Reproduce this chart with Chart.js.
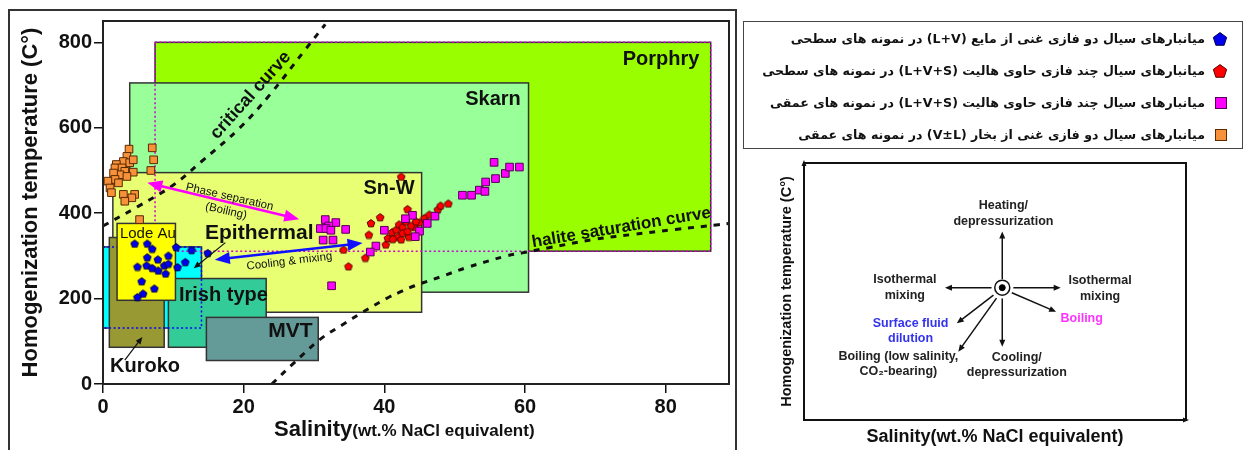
<!DOCTYPE html>
<html>
<head>
<meta charset="utf-8">
<script src="https://cdn.jsdelivr.net/npm/chart.js@4.4.0/dist/chart.umd.min.js"></script>
<style>
  body { margin: 0; width: 1249px; height: 450px; overflow: hidden; background: #fff; position: relative;
         font-family: "Liberation Sans", Arial, sans-serif; }
  #main { position: absolute; left: 0; top: 0; }
  #scheme { position: absolute; left: 760px; top: 154px; }
  #frame { position: absolute; left: 8px; top: 9px; width: 729px; height: 460px; border: 2px solid #333;
           box-sizing: border-box; pointer-events: none; }
  #xtitle { position: absolute; left: 274px; top: 418px; line-height: 22px; font-weight: bold; color: #111; white-space: nowrap; }
  #xtitle .big { font-size: 22px; }
  #xtitle .small { font-size: 17px; }
  #legend { position: absolute; left: 743px; top: 21px; width: 500px; height: 128px; border: 1.5px solid #444;
            box-sizing: border-box; }
  #legend .row { position: absolute; right: 37px; height: 18px; line-height: 18px; direction: rtl;
                 font-family: "DejaVu Sans", sans-serif; font-weight: bold; font-size: 12.6px; color: #111; white-space: nowrap; }
  #legend img { position: absolute; right: 14px; }
</style>
</head>
<body>
<canvas id="main" width="1249" height="450"></canvas>
<div id="frame"></div>
<div id="xtitle"><span class="big">Salinity</span><span class="small">(wt.% NaCl equivalent)</span></div>
<div id="legend"></div>
<canvas id="scheme" width="440" height="296"></canvas>

<script>
// axis ticks
const xTicks = [0, 20, 40, 60, 80];
const yTicks = [0, 200, 400, 600, 800];

// deposit type fields (wt.% NaCl range, Th range), in drawing order
const zoneNames = ['Porphry', 'Skarn', 'Sn-W', 'Epithermal', 'Kuroko', 'Irish type', 'MVT', 'Lode Au'];
const zoneSalinity = [[7.4, 86.4], [3.8, 60.5], [1.4, 45.3], [0, 14], [0.9, 8.7], [9.3, 23.2], [14.7, 30.6], [2, 10.3]];
const zoneTemp = [[311, 800], [215, 705], [168, 495], [131, 321], [86, 343], [86, 247], [55, 156], [196, 376]];

// reference curves
const criticalSalinity = [0, 5, 10, 14, 19.4, 23.7, 28.9, 31.6];
const criticalTemp = [370, 416, 466, 521, 599, 677, 786, 842];
const haliteSalinity = [24, 27, 30.9, 34, 36.9, 40.5, 42.6, 44.3, 48, 51.6, 57.4, 59.6, 63.4, 70, 75.2, 81.4, 87.5, 89];
const haliteTemp = [0, 47, 105, 138, 168, 202, 218, 230, 251, 272, 300, 307, 319, 339, 350, 362, 373, 376];

// fluid inclusions
const lvSurfSal = [4.5, 6.3, 7.0, 10.4, 12.6, 14.9, 6.3, 7.8, 9.3, 4.9, 6.2, 7.0, 7.85, 8.7, 9.3, 8.9, 10.6, 11.7, 5.5, 7.3, 5.7, 4.9];
const lvSurfTh = [329, 329, 317, 321, 314, 307, 297, 292, 301, 275, 278, 272, 266, 278, 282, 259, 274, 286, 241, 224, 212, 204];

const lvsSurfSal = [42.4, 43.3, 39.4, 38.1, 37.8, 34.2, 34.9, 37.3, 40.2, 40.5, 41.1, 41.7, 42.1, 42.6, 43.1, 41.9, 42.4, 43.5, 44.3, 45.0, 45.7, 46.4, 47.6, 48.0, 49.1, 43.8, 41.2, 42.6, 43.3, 44.5];
const lvsSurfTh = [486, 410, 391, 377, 350, 315, 276, 296, 327, 342, 356, 362, 374, 368, 381, 345, 339, 345, 368, 379, 389, 397, 409, 418, 423, 371, 340, 354, 358, 381];

const lvsDeepSal = [31.6, 33.1, 32.1, 30.9, 31.7, 32.4, 34.5, 31.3, 32.7, 44.0, 43.0, 40.0, 45.0, 44.4, 38.8, 38.0, 46.1, 47.2, 51.1, 52.4, 53.5, 54.3, 54.4, 55.8, 57.2, 57.8, 59.2, 55.6, 32.5];
const lvsDeepTh = [385, 378, 370, 364, 364, 360, 362, 337, 337, 395, 387, 360, 358, 345, 323, 309, 376, 393, 442, 442, 454, 451, 473, 481, 493, 508, 508, 519, 230];

const vlDeepSal = [7.0, 7.2, 6.8, 3.7, 3.4, 2.9, 3.8, 4.3, 1.9, 1.7, 2.7, 3.1, 2.4, 1.5, 4.3, 3.4, 1.7, 0.7, 2.2, 1.0, 1.2, 2.9, 4.5, 4.1, 3.1, 5.2];
const vlDeepTh = [553, 525, 500, 550, 533, 521, 518, 525, 514, 506, 506, 498, 490, 494, 496, 486, 479, 475, 471, 459, 448, 444, 444, 436, 428, 385];

const legendLabels = [
  'میانبارهای سیال دو فازی غنی از مایع (L+V) در نمونه های سطحی',
  'میانبارهای سیال چند فازی حاوی هالیت (L+V+S) در نمونه های سطحی',
  'میانبارهای سیال چند فازی حاوی هالیت (L+V+S) در نمونه های عمقی',
  'میانبارهای سیال دو فازی غنی از بخار (V±L) در نمونه های عمقی'
];

// styles
const zoneFill = ['#99ff00', '#99ff99', '#e8ff74', '#00ffff', '#999933', '#33cc99', '#649a98', '#ffff00'];
const zoneDotted = { 'Porphry': '#cc00cc', 'Epithermal': '#0000ff' };

const toPts = (xs, ys) => xs.map((v, i) => ({ x: v, y: ys[i] }));

function pentagon(size, fill, stroke) {
  const c = document.createElement('canvas');
  c.width = c.height = size;
  const g = c.getContext('2d');
  const r = size / 2 - 1;
  g.beginPath();
  for (let i = 0; i < 5; i++) {
    const a = -Math.PI / 2 + i * 2 * Math.PI / 5;
    const px = size / 2 + r * Math.cos(a), py = size / 2 + 0.6 + r * Math.sin(a);
    i ? g.lineTo(px, py) : g.moveTo(px, py);
  }
  g.closePath();
  g.fillStyle = fill; g.fill();
  g.lineWidth = 1; g.strokeStyle = stroke; g.stroke();
  return c;
}
function square(size, fill, stroke) {
  const c = document.createElement('canvas');
  c.width = c.height = size;
  const g = c.getContext('2d');
  g.fillStyle = fill; g.fillRect(1, 1, size - 2, size - 2);
  g.lineWidth = 1; g.strokeStyle = stroke; g.strokeRect(1.5, 1.5, size - 3, size - 3);
  return c;
}

function drawArrow(ctx, x0, y0, x1, y1, color, lw, hl, hw, both) {
  const a = Math.atan2(y1 - y0, x1 - x0), c = Math.cos(a), s = Math.sin(a);
  ctx.strokeStyle = color; ctx.fillStyle = color; ctx.lineWidth = lw;
  ctx.beginPath();
  ctx.moveTo(both ? x0 + c * hl * 0.7 : x0, both ? y0 + s * hl * 0.7 : y0);
  ctx.lineTo(x1 - c * hl * 0.7, y1 - s * hl * 0.7);
  ctx.stroke();
  const head = (x, y, cc, ss) => {
    ctx.beginPath();
    ctx.moveTo(x, y);
    ctx.lineTo(x - hl * cc + hw / 2 * ss, y - hl * ss - hw / 2 * cc);
    ctx.lineTo(x - hl * cc - hw / 2 * ss, y - hl * ss + hw / 2 * cc);
    ctx.closePath(); ctx.fill();
  };
  head(x1, y1, c, s);
  if (both) head(x0, y0, -c, -s);
}

function drawText(ctx, text, x, y, font, color, align, rot) {
  ctx.save();
  ctx.translate(x, y);
  if (rot) ctx.rotate(rot * Math.PI / 180);
  ctx.font = font; ctx.fillStyle = color;
  ctx.textAlign = align || 'center'; ctx.textBaseline = 'middle';
  ctx.fillText(text, 0, 0);
  ctx.restore();
}

// annotations of the main diagram (data units)
const mainArrows = [
  { from: [6.3, 471], to: [27.9, 386], color: '#ff00ff', both: true, lw: 2.5, hl: 15, hw: 12 },
  { from: [15.9, 291], to: [36.9, 330], color: '#1010ff', both: true, lw: 2.5, hl: 15, hw: 12 },
  { from: [17.4, 331], to: [12.9, 271], color: '#111', both: false, lw: 1.2, hl: 7, hw: 6 },
  { from: [3.1, 56], to: [5.6, 110], color: '#111', both: false, lw: 1.2, hl: 7, hw: 6 }
];
const mainLabels = [
  { text: 'Porphry', x: 84.8, y: 759, font: 'bold 20px "Liberation Sans"', align: 'right' },
  { text: 'Skarn', x: 59.4, y: 667, font: 'bold 20px "Liberation Sans"', align: 'right' },
  { text: 'Sn-W', x: 44.3, y: 457, font: 'bold 20px "Liberation Sans"', align: 'right' },
  { text: 'Lode Au', x: 2.4, y: 351, font: '15px "Liberation Sans"', align: 'left' },
  { text: 'Epithermal', x: 14.5, y: 353, font: 'bold 21px "Liberation Sans"', align: 'left' },
  { text: 'Irish type', x: 10.8, y: 208, font: 'bold 20px "Liberation Sans"', align: 'left' },
  { text: 'MVT', x: 23.5, y: 124, font: 'bold 21px "Liberation Sans"', align: 'left' },
  { text: 'Kuroko', x: 1.0, y: 42, font: 'bold 20px "Liberation Sans"', align: 'left' },
  { text: 'critical curve', x: 21.0, y: 676, font: 'bold 18px "Liberation Sans"', rot: -48 },
  { text: 'halite saturation curve', x: 73.7, y: 366, font: 'bold 17px "Liberation Sans"', rot: -9.5 },
  { text: 'Phase separation', x: 18.0, y: 438, font: '11.5px "Liberation Sans"', rot: 13 },
  { text: '(Boiling)', x: 17.5, y: 405, font: '11.5px "Liberation Sans"', rot: 13 },
  { text: 'Cooling & mixing', x: 26.5, y: 287, font: '11.5px "Liberation Sans"', rot: -7 }
];

const zonePlugin = {
  id: 'zones',
  beforeDatasetsDraw(chart) {
    const { ctx, chartArea: a, scales: { x, y } } = chart;
    ctx.save();
    ctx.beginPath(); ctx.rect(a.left, a.top, a.right - a.left, a.bottom - a.top); ctx.clip();
    const rectOf = i => {
      const l = x.getPixelForValue(zoneSalinity[i][0]), r = x.getPixelForValue(zoneSalinity[i][1]);
      const t = y.getPixelForValue(zoneTemp[i][1]), b = y.getPixelForValue(zoneTemp[i][0]);
      return [l, t, r - l, b - t];
    };
    const solid = i => {
      const rc = rectOf(i);
      ctx.fillStyle = zoneFill[i]; ctx.fillRect(...rc);
      ctx.setLineDash([]); ctx.lineWidth = 1.5; ctx.strokeStyle = '#333'; ctx.strokeRect(...rc);
    };
    const last = zoneNames.indexOf('Lode Au');
    zoneNames.forEach((n, i) => { if (i !== last) solid(i); });
    zoneNames.forEach((n, i) => {
      if (!zoneDotted[n]) return;
      ctx.setLineDash([2, 2.5]); ctx.lineWidth = 1.5; ctx.strokeStyle = zoneDotted[n];
      ctx.strokeRect(...rectOf(i));
    });
    solid(last);
    ctx.restore();
  },
  afterDatasetsDraw(chart) {
    const { ctx, chartArea: a, scales: { x, y } } = chart;
    ctx.save();
    mainArrows.forEach(m => drawArrow(ctx, x.getPixelForValue(m.from[0]), y.getPixelForValue(m.from[1]),
      x.getPixelForValue(m.to[0]), y.getPixelForValue(m.to[1]), m.color, m.lw, m.hl, m.hw, m.both));
    mainLabels.forEach(l => drawText(ctx, l.text, x.getPixelForValue(l.x), y.getPixelForValue(l.y),
      l.font, '#111', l.align, l.rot));
    ctx.setLineDash([]); ctx.lineWidth = 2; ctx.strokeStyle = '#222';
    ctx.strokeRect(a.left, a.top, a.right - a.left, a.bottom - a.top);
    ctx.restore();
  }
};

const tickFont = { family: '"Liberation Sans", Arial', weight: 'bold', size: 20 };

new Chart(document.getElementById('main'), {
  type: 'line',
  data: {
    datasets: [
      { label: 'L+V surface', data: toPts(lvSurfSal, lvSurfTh), showLine: false, order: 1,
        pointStyle: pentagon(10, '#0000ee', '#000044'), pointRadius: 5 },
      { label: 'L+V+S deep', data: toPts(lvsDeepSal, lvsDeepTh), showLine: false, order: 2,
        pointStyle: 'rect', pointRadius: 5.4, backgroundColor: '#ff00ff', borderColor: '#550055', pointBorderWidth: 1 },
      { label: 'L+V+S surface', data: toPts(lvsSurfSal, lvsSurfTh), showLine: false, order: 3,
        pointStyle: pentagon(10, '#ff0000', '#550000'), pointRadius: 5 },
      { label: 'V+L deep', data: toPts(vlDeepSal, vlDeepTh), showLine: false, order: 4,
        pointStyle: 'rect', pointRadius: 5.4, backgroundColor: '#f7923a', borderColor: '#5a2a00', pointBorderWidth: 1 },
      { label: 'critical curve', data: toPts(criticalSalinity, criticalTemp), order: 5, pointRadius: 0,
        borderColor: '#111', borderWidth: 3, borderDash: [6, 7], tension: 0.4, fill: false },
      { label: 'halite saturation curve', data: toPts(haliteSalinity, haliteTemp), order: 6, pointRadius: 0,
        borderColor: '#111', borderWidth: 3, borderDash: [6, 7], tension: 0.4, fill: false }
    ]
  },
  options: {
    responsive: false,
    animation: false,
    layout: { padding: { left: 0, top: 21, right: 520, bottom: 0 } },
    plugins: { legend: { display: false }, tooltip: { enabled: false } },
    scales: {
      x: {
        type: 'linear', min: 0, max: 89,
        ticks: { stepSize: 20, font: tickFont, color: '#111', padding: 2, maxRotation: 0 },
        afterBuildTicks: s => { s.ticks = xTicks.map(v => ({ value: v })); },
        grid: { drawOnChartArea: false, tickLength: 9, color: '#111', lineWidth: 1.5 },
        border: { color: '#111', width: 2 },
        afterFit: s => { s.height = 66; }
      },
      y: {
        type: 'linear', min: 0, max: 850,
        ticks: { stepSize: 200, font: tickFont, color: '#111', padding: 2 },
        afterBuildTicks: s => { s.ticks = yTicks.map(v => ({ value: v })); },
        grid: { drawOnChartArea: false, tickLength: 9, color: '#111', lineWidth: 1.5 },
        border: { color: '#111', width: 2 },
        title: { display: true, text: 'Homogenization temperature (C°)', color: '#111',
                 font: { family: '"Liberation Sans", Arial', weight: 'bold', size: 22 }, padding: { top: 18, bottom: 0 } },
        afterFit: s => { s.width = 103; }
      }
    }
  },
  plugins: [zonePlugin]
});

// legend
const legendIcons = [pentagon(16, '#0000ee', '#000044'), pentagon(16, '#ff0000', '#550000'),
                     square(14, '#ff00ff', '#550055'), square(14, '#f7923a', '#5a2a00')];
const legendEl = document.getElementById('legend');
legendLabels.forEach((t, i) => {
  const cy = 17 + i * 32;
  const row = document.createElement('div');
  row.className = 'row'; row.style.top = (cy - 9) + 'px'; row.textContent = t;
  legendEl.appendChild(row);
  const img = document.createElement('img');
  img.src = legendIcons[i].toDataURL();
  img.style.top = (cy - legendIcons[i].height / 2) + 'px';
  legendEl.appendChild(img);
});

// schematic of fluid evolution trends (0-100 units on both axes)
const schemeCenter = [51.9, 51.5];
const schemeArrows = [
  [[51.9, 54.8], [51.9, 73.3]],
  [[49.1, 51.5], [36.9, 51.5]],
  [[54.8, 51.5], [67.2, 51.5]],
  [[51.9, 47.3], [51.9, 28.5]],
  [[49.6, 48.6], [40.0, 37.6]],
  [[50.4, 47.4], [40.4, 26.6]],
  [[54.4, 49.5], [66.0, 42.1]]
];
const schemeLabels = [
  ['Heating/', 52.2, 83.4, '#222'], ['depressurization', 52.2, 77.4, '#222'],
  ['Isothermal', 26.4, 54.5, '#222'], ['mixing', 26.4, 48.6, '#222'],
  ['Isothermal', 77.5, 54.2, '#222'], ['mixing', 77.5, 48.0, '#222'],
  ['Surface fluid', 27.9, 37.6, '#3333ee'], ['dilution', 27.9, 31.8, '#3333ee'],
  ['Boiling', 72.7, 39.6, '#ff33ff'],
  ['Boiling (low salinity,', 24.7, 24.6, '#222'], ['CO₂-bearing)', 24.7, 18.8, '#222'],
  ['Cooling/', 55.7, 24.4, '#222'], ['depressurization', 55.7, 18.6, '#222']
];

const schemePlugin = {
  id: 'scheme',
  beforeDatasetsDraw(chart) {
    const { ctx, chartArea: a, scales: { x, y } } = chart;
    ctx.save();
    ctx.lineWidth = 2; ctx.strokeStyle = '#111';
    ctx.strokeRect(a.left, a.top, a.right - a.left, a.bottom - a.top);
    drawArrow(ctx, a.left, a.top + 10, a.left, a.top - 3, '#111', 2, 6, 5, false);
    drawArrow(ctx, a.right - 10, a.bottom, a.right + 3, a.bottom, '#111', 2, 6, 5, false);
    schemeArrows.forEach(([f, t]) => drawArrow(ctx, x.getPixelForValue(f[0]), y.getPixelForValue(f[1]),
      x.getPixelForValue(t[0]), y.getPixelForValue(t[1]), '#111', 1.5, 7, 6, false));
    schemeLabels.forEach(([t, lx, ly, c]) => drawText(ctx, t, x.getPixelForValue(lx), y.getPixelForValue(ly),
      'bold 12.5px "Liberation Sans"', c, 'center', 0));
    ctx.restore();
  }
};

new Chart(document.getElementById('scheme'), {
  type: 'scatter',
  data: {
    datasets: [
      { data: [{ x: schemeCenter[0], y: schemeCenter[1] }], pointRadius: 3, backgroundColor: '#000', borderColor: '#000' },
      { data: [{ x: schemeCenter[0], y: schemeCenter[1] }], pointRadius: 7.5, backgroundColor: '#fff',
        borderColor: '#111', pointBorderWidth: 1.5 }
    ]
  },
  options: {
    responsive: false,
    animation: false,
    layout: { padding: { left: 0, top: 3, right: 14, bottom: 0 } },
    plugins: { legend: { display: false }, tooltip: { enabled: false } },
    scales: {
      x: {
        min: 0, max: 100, ticks: { display: false }, grid: { display: false }, border: { display: false },
        title: { display: true, text: 'Salinity(wt.% NaCl equivalent)', color: '#111',
                 font: { family: '"Liberation Sans", Arial', weight: 'bold', size: 18 }, padding: { top: 0, bottom: 2 } },
        afterFit: s => { s.height = 30; }
      },
      y: {
        min: 0, max: 100, ticks: { display: false }, grid: { display: false }, border: { display: false },
        title: { display: true, text: 'Homogenization temperature (C°)', color: '#111',
                 font: { family: '"Liberation Sans", Arial', weight: 'bold', size: 14.5 }, padding: { top: 18, bottom: 0 } },
        afterFit: s => { s.width = 44; }
      }
    }
  },
  plugins: [schemePlugin]
});
</script>
</body>
</html>
